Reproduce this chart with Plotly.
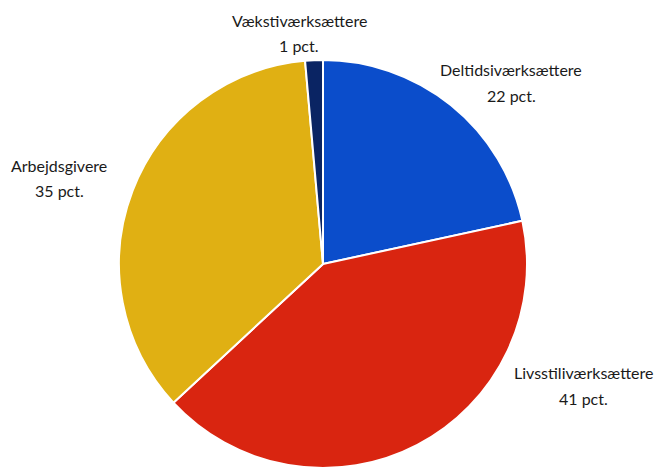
import plotly.graph_objects as go

categories = ["Deltidsiværksættere", "Livsstiliværksættere", "Arbejdsgivere", "Vækstiværksættere"]
values = [21.6, 41.5, 35.5, 1.4]
pct_labels = ["22 pct.", "41 pct.", "35 pct.", "1 pct."]
colors = ["#0B4DCB", "#D92510", "#E0B013", "#0A2463"]

W, H = 654, 468
# label centers in window pixels (x, y of name line, y of pct line)
label_pos = {
    "Deltidsiværksættere": (511, 69, 96),
    "Livsstiliværksættere": (583, 372, 398),
    "Arbejdsgivere": (59, 165, 190),
    "Vækstiværksættere": (299, 21, 46),
}

cx, cy, r = 323, 265, 205
fig = go.Figure(go.Pie(
    labels=categories,
    values=values,
    marker=dict(colors=colors, line=dict(color="white", width=2)),
    sort=False,
    direction="clockwise",
    rotation=0,
    textinfo="none",
    hoverinfo="label+percent",
    showlegend=False,
    domain=dict(x=[(cx - r) / W, (cx + r) / W], y=[max(0, 1 - (cy + r) / H), 1 - (cy - r) / H]),
))

font = dict(family="Lato, Open Sans, sans-serif", size=16, color="#1a1a1a")
anns = []
for cat, pct in zip(categories, pct_labels):
    x, y1, y2 = label_pos[cat]
    for txt, yy in ((cat, y1), (pct, y2)):
        anns.append(dict(text=txt, x=x / W, y=1 - yy / H, xref="paper", yref="paper",
                         xanchor="center", yanchor="middle", showarrow=False, font=font))

fig.update_layout(
    width=W, height=H,
    margin=dict(l=0, r=0, t=0, b=0),
    paper_bgcolor="white",
    plot_bgcolor="white",
    annotations=anns,
)

fig.write_html("out.html",
               config={"displayModeBar": False},
               post_script="document.body.style.margin='0';document.body.style.overflow='hidden';")
